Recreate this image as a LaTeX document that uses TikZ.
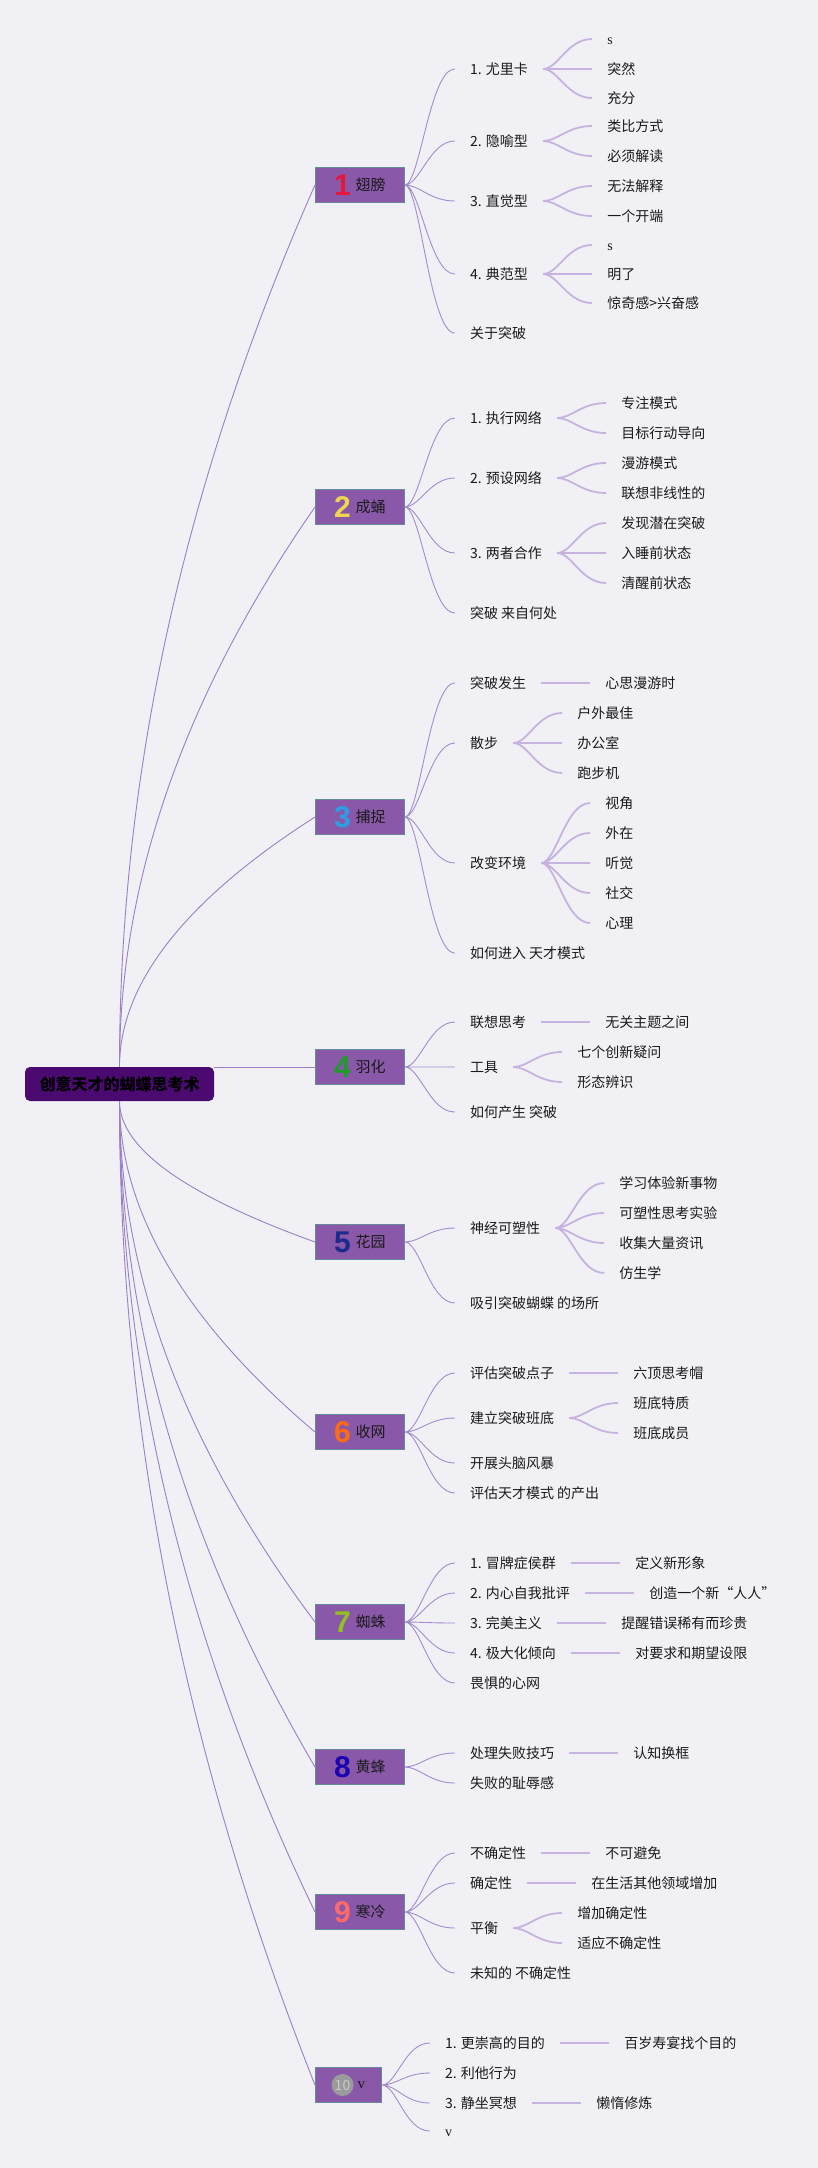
\documentclass[tikz,border=0pt]{standalone}
\usepackage{fontspec}
\setmainfont{Noto Sans CJK SC}
\newfontfamily\numfont{Liberation Sans}
\newfontfamily\serifed{Liberation Serif}
\usetikzlibrary{positioning,calc}
\definecolor{bgcol}{HTML}{F1F0F5}
\definecolor{rootfill}{HTML}{4A0A70}
\definecolor{stagefill}{HTML}{8A58A9}
\definecolor{stageedge}{HTML}{66899A}
\definecolor{rootedge}{HTML}{9A80C6}
\definecolor{subedge}{HTML}{A48CD0}
\definecolor{leafedge}{HTML}{C6B3DF}
\definecolor{inkcol}{HTML}{1A1A1A}
\definecolor{n1}{HTML}{E5173F}
\definecolor{n2}{HTML}{EED650}
\definecolor{n3}{HTML}{2A9FE4}
\definecolor{n4}{HTML}{1F9A2B}
\definecolor{n5}{HTML}{1C2A8C}
\definecolor{n6}{HTML}{FF6A13}
\definecolor{n7}{HTML}{93C01F}
\definecolor{n8}{HTML}{1A00B0}
\definecolor{n9}{HTML}{FF6B6B}
\definecolor{tengray}{HTML}{9B9B9B}
\definecolor{tenlight}{HTML}{C9C9C9}
\newcommand{\stagenum}[2]{\smash{\raisebox{-5pt}{\color{#1}\numfont\bfseries\fontsize{30}{30}\selectfont #2}}\hspace{5pt}}

\begin{document}
\begin{tikzpicture}[x=1pt,y=1pt,
	rootline/.style={draw=rootedge, line width=0.9pt},
	subline/.style={draw=subedge, line width=0.9pt, to path={.. controls +(15,0) and +(-25,0) .. (\tikztotarget)}},
	leafline/.style={draw=leafedge, line width=1.8pt, to path={.. controls +(15,0) and +(-25,0) .. (\tikztotarget)}},
	topic/.style={fill=rootfill, rounded corners=5pt, minimum width=189pt, minimum height=34pt, inner sep=0pt, font=\fontsize{16}{19}\selectfont\bfseries, text=black},
	stage/.style={anchor=west, draw=stageedge, fill=stagefill, line width=0.8pt, minimum width=89pt, minimum height=35pt, inner sep=0pt, font=\fontsize{15}{18}\selectfont, text=inkcol},
	tencirc/.style={circle, fill=tengray, text=tenlight, inner sep=0pt, minimum size=22pt, font=\fontsize{14}{14}\selectfont},
	idea/.style={anchor=west, inner xsep=15pt, inner ysep=0pt, text height=11.6pt, text depth=1pt, font=\fontsize{14}{17}\selectfont, text=inkcol},
	detail/.style={idea}]
		\fill[bgcol] (0,0) rectangle (818,-2168);
		\useasboundingbox (0,0) rectangle (818,-2168);

		\node[topic] (root) at (119.5,-1084) {创意天才的蝴蝶思考术};

		\node[stage] (s1) at (315,-185) {\stagenum{n1}{1}翅膀};
		\node[idea, right=50pt of s1, yshift=116pt] (s1a) {1. 尤里卡};
		\node[idea, right=50pt of s1, yshift=44pt] (s1b) {2. 隐喻型};
		\node[idea, right=50pt of s1, yshift=-16pt] (s1c) {3. 直觉型};
		\node[idea, right=50pt of s1, yshift=-89pt] (s1d) {4. 典范型};
		\node[idea, right=50pt of s1, yshift=-148pt] (s1e) {关于突破};
		\node[detail, right=49pt of s1a, yshift=30pt] (s1a1) {\serifed s};
		\node[detail, right=49pt of s1a] (s1a2) {突然};
		\node[detail, right=49pt of s1a, yshift=-29pt] (s1a3) {充分};
		\node[detail, right=49pt of s1b, yshift=15pt] (s1b1) {类比方式};
		\node[detail, right=49pt of s1b, yshift=-15pt] (s1b2) {必须解读};
		\node[detail, right=49pt of s1c, yshift=15pt] (s1c1) {无法解释};
		\node[detail, right=49pt of s1c, yshift=-15pt] (s1c2) {一个开端};
		\node[detail, right=49pt of s1d, yshift=29pt] (s1d1) {\serifed s};
		\node[detail, right=49pt of s1d] (s1d2) {明了};
		\node[detail, right=49pt of s1d, yshift=-29pt] (s1d3) {惊奇感>兴奋感};

		\node[stage] (s2) at (315,-507) {\stagenum{n2}{2}成蛹};
		\node[idea, right=50pt of s2, yshift=89pt] (s2a) {1. 执行网络};
		\node[idea, right=50pt of s2, yshift=29pt] (s2b) {2. 预设网络};
		\node[idea, right=50pt of s2, yshift=-46pt] (s2c) {3. 两者合作};
		\node[idea, right=50pt of s2, yshift=-106pt] (s2d) {突破 来自何处};
		\node[detail, right=49pt of s2a, yshift=15pt] (s2a1) {专注模式};
		\node[detail, right=49pt of s2a, yshift=-15pt] (s2a2) {目标行动导向};
		\node[detail, right=49pt of s2b, yshift=15pt] (s2b1) {漫游模式};
		\node[detail, right=49pt of s2b, yshift=-15pt] (s2b2) {联想非线性的};
		\node[detail, right=49pt of s2c, yshift=30pt] (s2c1) {发现潜在突破};
		\node[detail, right=49pt of s2c] (s2c2) {入睡前状态};
		\node[detail, right=49pt of s2c, yshift=-30pt] (s2c3) {清醒前状态};

		\node[stage] (s3) at (315,-817) {\stagenum{n3}{3}捕捉};
		\node[idea, right=50pt of s3, yshift=134pt] (s3a) {突破发生};
		\node[idea, right=50pt of s3, yshift=74pt] (s3b) {散步};
		\node[idea, right=50pt of s3, yshift=-46pt] (s3c) {改变环境};
		\node[idea, right=50pt of s3, yshift=-136pt] (s3d) {如何进入 天才模式};
		\node[detail, right=49pt of s3a] (s3a1) {心思漫游时};
		\node[detail, right=49pt of s3b, yshift=30pt] (s3b1) {户外最佳};
		\node[detail, right=49pt of s3b] (s3b2) {办公室};
		\node[detail, right=49pt of s3b, yshift=-30pt] (s3b3) {跑步机};
		\node[detail, right=49pt of s3c, yshift=60pt] (s3c1) {视角};
		\node[detail, right=49pt of s3c, yshift=30pt] (s3c2) {外在};
		\node[detail, right=49pt of s3c] (s3c3) {听觉};
		\node[detail, right=49pt of s3c, yshift=-30pt] (s3c4) {社交};
		\node[detail, right=49pt of s3c, yshift=-60pt] (s3c5) {心理};

		\node[stage] (s4) at (315,-1067) {\stagenum{n4}{4}羽化};
		\node[idea, right=50pt of s4, yshift=45pt] (s4a) {联想思考};
		\node[idea, right=50pt of s4] (s4b) {工具};
		\node[idea, right=50pt of s4, yshift=-45pt] (s4c) {如何产生 突破};
		\node[detail, right=49pt of s4a] (s4a1) {无关主题之间};
		\node[detail, right=49pt of s4b, yshift=15pt] (s4b1) {七个创新疑问};
		\node[detail, right=49pt of s4b, yshift=-15pt] (s4b2) {形态辨识};

		\node[stage] (s5) at (315,-1242) {\stagenum{n5}{5}花园};
		\node[idea, right=50pt of s5, yshift=14pt] (s5a) {神经可塑性};
		\node[idea, right=50pt of s5, yshift=-61pt] (s5b) {吸引突破蝴蝶 的场所};
		\node[detail, right=49pt of s5a, yshift=45pt] (s5a1) {学习体验新事物};
		\node[detail, right=49pt of s5a, yshift=15pt] (s5a2) {可塑性思考实验};
		\node[detail, right=49pt of s5a, yshift=-15pt] (s5a3) {收集大量资讯};
		\node[detail, right=49pt of s5a, yshift=-45pt] (s5a4) {仿生学};

		\node[stage] (s6) at (315,-1432) {\stagenum{n6}{6}收网};
		\node[idea, right=50pt of s6, yshift=59pt] (s6a) {评估突破点子};
		\node[idea, right=50pt of s6, yshift=14pt] (s6b) {建立突破班底};
		\node[idea, right=50pt of s6, yshift=-31pt] (s6c) {开展头脑风暴};
		\node[idea, right=50pt of s6, yshift=-61pt] (s6d) {评估天才模式 的产出};
		\node[detail, right=49pt of s6a] (s6a1) {六顶思考帽};
		\node[detail, right=49pt of s6b, yshift=15pt] (s6b1) {班底特质};
		\node[detail, right=49pt of s6b, yshift=-15pt] (s6b2) {班底成员};

		\node[stage] (s7) at (315,-1622) {\stagenum{n7}{7}蜘蛛};
		\node[idea, right=50pt of s7, yshift=59pt] (s7a) {1. 冒牌症侯群};
		\node[idea, right=50pt of s7, yshift=29pt] (s7b) {2. 内心自我批评};
		\node[idea, right=50pt of s7, yshift=-1pt] (s7c) {3. 完美主义};
		\node[idea, right=50pt of s7, yshift=-31pt] (s7d) {4. 极大化倾向};
		\node[idea, right=50pt of s7, yshift=-61pt] (s7e) {畏惧的心网};
		\node[detail, right=49pt of s7a] (s7a1) {定义新形象};
		\node[detail, right=49pt of s7b] (s7b1) {创造一个新“人人”};
		\node[detail, right=49pt of s7c] (s7c1) {提醒错误稀有而珍贵};
		\node[detail, right=49pt of s7d] (s7d1) {对要求和期望设限};

		\node[stage] (s8) at (315,-1767) {\stagenum{n8}{8}黄蜂};
		\node[idea, right=50pt of s8, yshift=14pt] (s8a) {处理失败技巧};
		\node[idea, right=50pt of s8, yshift=-16pt] (s8b) {失败的耻辱感};
		\node[detail, right=49pt of s8a] (s8a1) {认知换框};

		\node[stage] (s9) at (315,-1912) {\stagenum{n9}{9}寒冷};
		\node[idea, right=50pt of s9, yshift=59pt] (s9a) {不确定性};
		\node[idea, right=50pt of s9, yshift=29pt] (s9b) {确定性};
		\node[idea, right=50pt of s9, yshift=-16pt] (s9c) {平衡};
		\node[idea, right=50pt of s9, yshift=-61pt] (s9d) {未知的 不确定性};
		\node[detail, right=49pt of s9a] (s9a1) {不可避免};
		\node[detail, right=49pt of s9b] (s9b1) {在生活其他领域增加};
		\node[detail, right=49pt of s9c, yshift=15pt] (s9c1) {增加确定性};
		\node[detail, right=49pt of s9c, yshift=-15pt] (s9c2) {适应不确定性};

		\node[stage, minimum width=66pt] (s10) at (315,-2085) {\hspace{26pt}{\serifed v}};
		\node[tencirc] (s10n) at ([xshift=27.5pt]s10.west) {10};
		\node[idea, right=48pt of s10, yshift=42pt] (s10a) {1. 更崇高的目的};
		\node[idea, right=48pt of s10, yshift=12pt] (s10b) {2. 利他行为};
		\node[idea, right=48pt of s10, yshift=-18pt] (s10c) {3. 静坐冥想};
		\node[idea, right=48pt of s10, yshift=-46pt] (s10d) {\serifed v};
		\node[detail, right=49pt of s10a] (s10a1) {百岁寿宴找个目的};
		\node[detail, right=49pt of s10c] (s10c1) {懒惰修炼};

		\draw[rootline] (root.north) .. controls +(0,294) and +(-130,-294) .. (s1.west);
		\draw[rootline] (root.north) .. controls +(0,187) and +(-130,-187) .. (s2.west);
		\draw[rootline] (root.north) .. controls +(0,83) and +(-130,-83) .. (s3.west);
		\draw[rootline] (root.east |- s4.west) -- (s4.west);
		\draw[rootline] (root.south) .. controls +(0,-47) and +(-130,47) .. (s5.west);
		\draw[rootline] (root.south) .. controls +(0,-110) and +(-130,110) .. (s6.west);
		\draw[rootline] (root.south) .. controls +(0,-174) and +(-130,174) .. (s7.west);
		\draw[rootline] (root.south) .. controls +(0,-222) and +(-130,222) .. (s8.west);
		\draw[rootline] (root.south) .. controls +(0,-270) and +(-130,270) .. (s9.west);
		\draw[rootline] (root.south) .. controls +(0,-328) and +(-130,328) .. (s10.west);

		\draw[subline] (s1.east) to (s1a.west) (s1.east) to (s1b.west) (s1.east) to (s1c.west) (s1.east) to (s1d.west) (s1.east) to (s1e.west);
		\draw[leafline] (s1a.east) to (s1a1.west) (s1a.east) to (s1a2.west) (s1a.east) to (s1a3.west);
		\draw[leafline] (s1b.east) to (s1b1.west) (s1b.east) to (s1b2.west);
		\draw[leafline] (s1c.east) to (s1c1.west) (s1c.east) to (s1c2.west);
		\draw[leafline] (s1d.east) to (s1d1.west) (s1d.east) to (s1d2.west) (s1d.east) to (s1d3.west);

		\draw[subline] (s2.east) to (s2a.west) (s2.east) to (s2b.west) (s2.east) to (s2c.west) (s2.east) to (s2d.west);
		\draw[leafline] (s2a.east) to (s2a1.west) (s2a.east) to (s2a2.west);
		\draw[leafline] (s2b.east) to (s2b1.west) (s2b.east) to (s2b2.west);
		\draw[leafline] (s2c.east) to (s2c1.west) (s2c.east) to (s2c2.west) (s2c.east) to (s2c3.west);

		\draw[subline] (s3.east) to (s3a.west) (s3.east) to (s3b.west) (s3.east) to (s3c.west) (s3.east) to (s3d.west);
		\draw[leafline] (s3a.east) to (s3a1.west);
		\draw[leafline] (s3b.east) to (s3b1.west) (s3b.east) to (s3b2.west) (s3b.east) to (s3b3.west);
		\draw[leafline] (s3c.east) to (s3c1.west) (s3c.east) to (s3c2.west) (s3c.east) to (s3c3.west) (s3c.east) to (s3c4.west) (s3c.east) to (s3c5.west);

		\draw[subline] (s4.east) to (s4a.west) (s4.east) to (s4b.west) (s4.east) to (s4c.west);
		\draw[leafline] (s4a.east) to (s4a1.west);
		\draw[leafline] (s4b.east) to (s4b1.west) (s4b.east) to (s4b2.west);

		\draw[subline] (s5.east) to (s5a.west) (s5.east) to (s5b.west);
		\draw[leafline] (s5a.east) to (s5a1.west) (s5a.east) to (s5a2.west) (s5a.east) to (s5a3.west) (s5a.east) to (s5a4.west);

		\draw[subline] (s6.east) to (s6a.west) (s6.east) to (s6b.west) (s6.east) to (s6c.west) (s6.east) to (s6d.west);
		\draw[leafline] (s6a.east) to (s6a1.west);
		\draw[leafline] (s6b.east) to (s6b1.west) (s6b.east) to (s6b2.west);

		\draw[subline] (s7.east) to (s7a.west) (s7.east) to (s7b.west) (s7.east) to (s7c.west) (s7.east) to (s7d.west) (s7.east) to (s7e.west);
		\draw[leafline] (s7a.east) to (s7a1.west) (s7b.east) to (s7b1.west) (s7c.east) to (s7c1.west) (s7d.east) to (s7d1.west);

		\draw[subline] (s8.east) to (s8a.west) (s8.east) to (s8b.west);
		\draw[leafline] (s8a.east) to (s8a1.west);

		\draw[subline] (s9.east) to (s9a.west) (s9.east) to (s9b.west) (s9.east) to (s9c.west) (s9.east) to (s9d.west);
		\draw[leafline] (s9a.east) to (s9a1.west) (s9b.east) to (s9b1.west);
		\draw[leafline] (s9c.east) to (s9c1.west) (s9c.east) to (s9c2.west);

		\draw[subline] (s10.east) to (s10a.west) (s10.east) to (s10b.west) (s10.east) to (s10c.west) (s10.east) to (s10d.west);
		\draw[leafline] (s10a.east) to (s10a1.west) (s10c.east) to (s10c1.west);
	\end{tikzpicture}
\end{document}
